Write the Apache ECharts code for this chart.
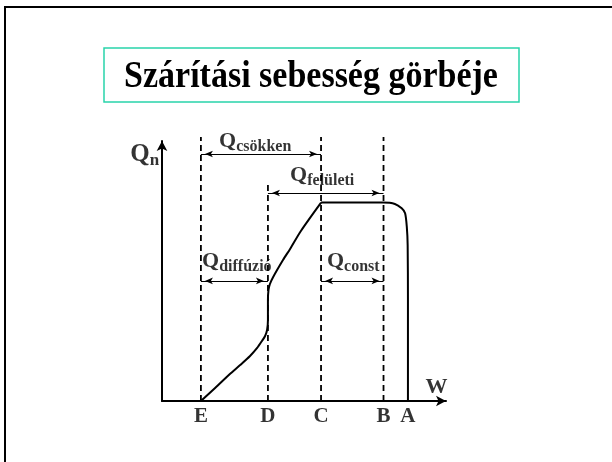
<!DOCTYPE html>
<html>
<head>
<meta charset="utf-8">
<script src="https://cdn.jsdelivr.net/npm/echarts@6/dist/echarts.min.js"></script>
<style>
  html, body { margin: 0; padding: 0; background: #fff; }
  #chart { width: 612px; height: 462px; }
</style>
</head>
<body>
<div id="chart"></div>
<script>
// Drying-rate curve: drying rate Qn against moisture content W.

// Characteristic moisture points on the W axis
const pointNames = ['E', 'D', 'C', 'B', 'A'];
const pointW = [13.7, 37.3, 56.0, 78.0, 86.6];

// The drying-rate curve: rising part from E to C, then the plateau and the drop at A
const riseW = [13.7, 18.7, 23.9, 27.5, 31.0, 33.5, 35.2, 36.3, 37.0, 37.3, 37.3, 37.5, 38.0, 39.1, 42.6, 45.1, 48.9, 56.0];
const riseQ = [0, 5.0, 10.4, 13.8, 17.3, 20.4, 23.1, 25.0, 27.3, 31.2, 38.8, 42.7, 45.0, 47.6, 54.2, 58.5, 65.4, 76.3];
const plateauW = [56.0, 77.8, 82.0, 84.4, 85.6, 86.2, 86.5, 86.6, 86.6];
const plateauQ = [76.3, 76.3, 75.8, 74.1, 72.2, 67.0, 60.0, 38.8, 0];

// Dashed guide lines at E, D, C and B, with the Qn level where each ends
const guideW = [13.7, 37.3, 56.0, 78.0];
const guideTop = [101.5, 83.8, 101.5, 101.5];

// Stage spans: double arrows between two guides, with their Q labels
const spanNames = ['csökken', 'felületi', 'diffúzió', 'const'];
const spanFrom = [13.7, 37.3, 13.7, 56.0];
const spanTo = [56.0, 78.0, 37.3, 78.0];
const spanQ = [95.0, 80.0, 46.2, 46.2];
const spanLabelW = [20.1, 45.1, 14.1, 58.1];
const spanLabelQ = [104.2, 91.2, 58.1, 58.1];

const SERIF = "'Liberation Serif', 'Times New Roman', serif";

const chart = echarts.init(document.getElementById('chart'), null, { renderer: 'canvas' });

const axisCommon = {
  type: 'value',
  min: 0,
  max: 100,
  axisLine: {
    show: true,
    onZero: false,
    symbol: ['none', 'arrow'],
    symbolSize: [8, 10],
    lineStyle: { color: '#000', width: 2 }
  },
  axisTick: { show: false },
  axisLabel: { show: false },
  splitLine: { show: false }
};

const subRich = {
  q: { fontFamily: SERIF, fontWeight: 'bold', fontSize: 22, lineHeight: 22, color: '#000', verticalAlign: 'top' },
  s: { fontFamily: SERIF, fontWeight: 'bold', fontSize: 16, lineHeight: 16, color: '#000', verticalAlign: 'top', padding: [9, 0, 0, 0] },
  big: { fontFamily: SERIF, fontWeight: 'bold', fontSize: 25, lineHeight: 25, color: '#000', verticalAlign: 'top' },
  bs: { fontFamily: SERIF, fontWeight: 'bold', fontSize: 17, lineHeight: 17, color: '#000', verticalAlign: 'top', padding: [10, 0, 0, 0] }
};

function pairs(xs, ys) {
  return xs.map(function (x, i) { return [x, ys[i]]; });
}

const series = [];

// guide lines
guideW.forEach(function (w, i) {
  series.push({
    type: 'line',
    data: [[w, 0], [w, guideTop[i]]],
    symbol: 'none',
    clip: false,
    silent: true,
    lineStyle: { color: '#000', width: 1.8, type: [6, 4] },
    z: 2
  });
});

// the curve, in two smoothed pieces meeting at the sharp corner C
[[riseW, riseQ], [plateauW, plateauQ]].forEach(function (part) {
  series.push({
    type: 'line',
    data: pairs(part[0], part[1]),
    symbol: 'none',
    smooth: 0.25,
    clip: false,
    lineStyle: { color: '#000', width: 2 },
    z: 3
  });
});

// stage span arrows
series.push({
  type: 'line',
  data: [],
  symbol: 'none',
  markLine: {
    silent: true,
    symbol: ['arrow', 'arrow'],
    symbolSize: [5, 8],
    symbolOffset: [[0, 4], [0, 4]],
    label: { show: false },
    lineStyle: { color: '#000', width: 1, type: 'solid' },
    data: spanNames.map(function (n, i) {
      return [{ coord: [spanFrom[i], spanQ[i]] }, { coord: [spanTo[i], spanQ[i]] }];
    })
  },
  z: 4
});

// stage span labels (Q with subscript)
series.push({
  type: 'scatter',
  data: spanNames.map(function (n, i) { return [spanLabelW[i], spanLabelQ[i], n]; }),
  symbolSize: 0,
  clip: false,
  silent: true,
  label: {
    show: true,
    position: 'inside',
    align: 'left',
    verticalAlign: 'top',
    formatter: function (p) { return '{q|Q}{s|' + p.value[2] + '}'; },
    rich: subRich
  },
  z: 5
});

// point letters under the W axis
series.push({
  type: 'scatter',
  data: pointNames.map(function (n, i) { return [pointW[i], -2.0, n]; }),
  symbolSize: 0,
  clip: false,
  silent: true,
  label: {
    show: true,
    position: 'inside',
    align: 'center',
    verticalAlign: 'top',
    formatter: function (p) { return p.value[2]; },
    fontFamily: SERIF,
    fontWeight: 'bold',
    fontSize: 21,
    lineHeight: 21,
    color: '#000'
  },
  z: 5
});

// axis names
series.push({
  type: 'scatter',
  data: [[-11.2, 99.6, 'Qn'], [92.8, 9.6, 'W']],
  symbolSize: 0,
  clip: false,
  silent: true,
  label: {
    show: true,
    position: 'inside',
    align: 'left',
    verticalAlign: 'top',
    formatter: function (p) {
      return p.value[2] === 'Qn' ? '{big|Q}{bs|n}' : '{q|W}';
    },
    rich: subRich
  },
  z: 5
});

chart.setOption({
  animation: false,
  backgroundColor: '#fff',
  grid: { left: 162, right: 166, top: 141, bottom: 61, containLabel: false },
  xAxis: axisCommon,
  yAxis: axisCommon,
  graphic: [
    {
      type: 'rect',
      shape: { x: 5, y: 7, width: 700, height: 600 },
      style: { fill: 'none', stroke: '#000', lineWidth: 2 },
      silent: true
    },
    {
      type: 'rect',
      shape: { x: 104, y: 48, width: 415, height: 54 },
      style: { fill: '#fff', stroke: '#29d4aa', lineWidth: 1.5 },
      silent: true
    },
    {
      type: 'text',
      x: 311,
      y: 78,
      scaleY: 1.12,
      originY: 10,
      style: {
        text: 'Szárítási sebesség görbéje',
        fontFamily: SERIF,
        fontWeight: 'bold',
        fontSize: 34,
        fill: '#000',
        align: 'center',
        verticalAlign: 'middle'
      },
      silent: true
    }
  ],
  series: series
});
</script>
</body>
</html>
